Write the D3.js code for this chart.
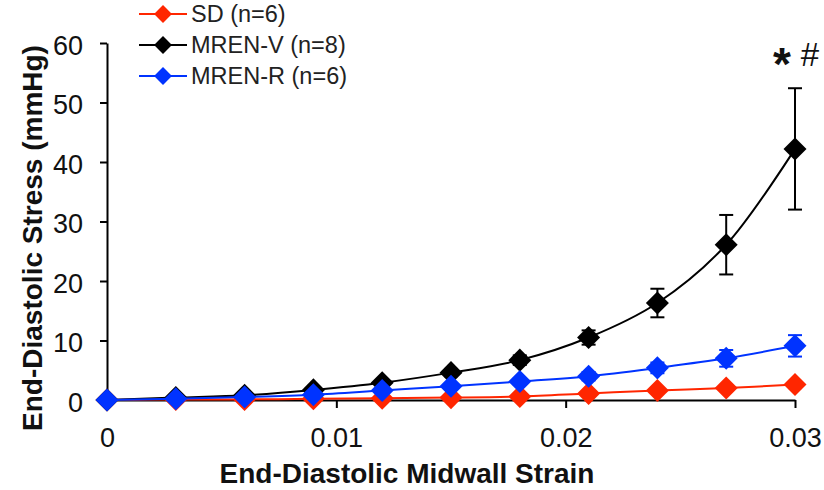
<!DOCTYPE html>
<html>
<head>
<meta charset="utf-8">
<script src="https://cdn.jsdelivr.net/npm/d3@7"></script>
<style>
  body { margin: 0; background: #fff; }
  text { font-family: "Liberation Sans", Arial, sans-serif; }
</style>
</head>
<body>
<div id="chart"></div>
<script>
var strain = [0, 0.003, 0.006, 0.009, 0.012, 0.015, 0.018, 0.021, 0.024, 0.027, 0.03];

var sdStress    = [0, 0.1, 0.1, 0.2, 0.3, 0.4, 0.6, 1.1, 1.6, 2.0, 2.6];
var sdErr       = [0, 0.05, 0.05, 0.1, 0.1, 0.1, 0.2, 0.3, 0.4, 0.5, 0.6];
var mrenVStress = [0, 0.4, 0.8, 1.7, 2.9, 4.6, 6.7, 10.5, 16.3, 26.1, 42.2];
var mrenVErr    = [0, 0.1, 0.2, 0.3, 0.4, 0.6, 0.8, 1.2, 2.4, 5.0, 10.2];
var mrenRStress = [0, 0.2, 0.5, 0.9, 1.6, 2.3, 3.1, 4.0, 5.4, 7.0, 9.1];
var mrenRErr    = [0, 0.05, 0.1, 0.2, 0.3, 0.4, 0.5, 0.7, 0.9, 1.4, 1.8];

var seriesNames = ["SD (n=6)", "MREN-V (n=8)", "MREN-R (n=6)"];
var xTicks = [0, 0.01, 0.02, 0.03];
var xTickLabels = ["0", "0.01", "0.02", "0.03"];
var yTicks = [0, 10, 20, 30, 40, 50, 60];

var width = 824;
var height = 490;

var series = [
  { name: seriesNames[0], values: sdStress, err: sdErr, color: "#ff2600" },
  { name: seriesNames[1], values: mrenVStress, err: mrenVErr, color: "#000000" },
  { name: seriesNames[2], values: mrenRStress, err: mrenRErr, color: "#0033ff" }
];

var svg = d3.select("#chart")
    .append("svg")
      .attr("width", width)
      .attr("height", height);

var x = d3.scaleLinear()
    .domain([0, 0.03])
    .range([107, 795]);

var y = d3.scaleLinear()
    .domain([0, 60])
    .range([400, 43]);

// axes
var xAxis = svg.append("g")
    .attr("transform", "translate(0,400)")
    .call(d3.axisBottom(x).tickValues(xTicks).tickSizeOuter(0).tickSizeInner(8)
      .tickFormat(function(d, i) { return xTickLabels[i]; }));
xAxis.select(".domain").attr("stroke", "#000").attr("stroke-width", 2);
xAxis.selectAll(".tick line").attr("stroke", "#000").attr("stroke-width", 2);
xAxis.selectAll(".tick text")
    .attr("y", 47)
    .attr("dy", 0)
    .style("font-size", "27px")
    .style("font-family", "Liberation Sans, Arial, sans-serif")
    .attr("fill", "#111");

var yAxis = svg.append("g")
    .attr("transform", "translate(107,0)")
    .call(d3.axisLeft(y).tickValues(yTicks).tickSizeOuter(0).tickSizeInner(7));
yAxis.select(".domain").attr("stroke", "#000").attr("stroke-width", 2);
yAxis.selectAll(".tick line").attr("stroke", "#000").attr("stroke-width", 2);
yAxis.selectAll(".tick text")
    .attr("x", -24)
    .attr("dy", "0.42em")
    .style("font-size", "27px")
    .style("font-family", "Liberation Sans, Arial, sans-serif")
    .attr("fill", "#111");

// axis titles
svg.append("text")
    .attr("x", 407)
    .attr("y", 483)
    .attr("text-anchor", "middle")
    .style("font-size", "28px")
    .style("font-weight", "bold")
    .attr("fill", "#111")
    .text("End-Diastolic Midwall Strain");

svg.append("text")
    .attr("transform", "translate(42,238) rotate(-90)")
    .attr("text-anchor", "middle")
    .style("font-size", "28px")
    .style("font-weight", "bold")
    .attr("fill", "#111")
    .text("End-Diastolic Stress (mmHg)");

var line = d3.line()
    .x(function(d, i) { return x(strain[i]); })
    .y(function(d) { return y(d); })
    .curve(d3.curveCatmullRom);

var diamond = d3.symbol().type(d3.symbolSquare).size(265);
var diamondSmall = d3.symbol().type(d3.symbolSquare).size(160);

series.forEach(function(s) {
  var g = svg.append("g");

  g.append("path")
      .datum(s.values)
      .attr("d", line)
      .attr("fill", "none")
      .attr("stroke", s.color)
      .attr("stroke-width", 2);

  var eb = g.selectAll(".err")
      .data(s.values)
      .enter()
      .append("g");
  eb.append("line")
      .attr("x1", function(d, i) { return x(strain[i]); })
      .attr("x2", function(d, i) { return x(strain[i]); })
      .attr("y1", function(d, i) { return y(d + s.err[i]); })
      .attr("y2", function(d, i) { return y(d - s.err[i]); })
      .attr("stroke", s.color)
      .attr("stroke-width", 2);
  eb.append("line")
      .attr("x1", function(d, i) { return x(strain[i]) - 7; })
      .attr("x2", function(d, i) { return x(strain[i]) + 7; })
      .attr("y1", function(d, i) { return y(d + s.err[i]); })
      .attr("y2", function(d, i) { return y(d + s.err[i]); })
      .attr("stroke", s.color)
      .attr("stroke-width", 2);
  eb.append("line")
      .attr("x1", function(d, i) { return x(strain[i]) - 7; })
      .attr("x2", function(d, i) { return x(strain[i]) + 7; })
      .attr("y1", function(d, i) { return y(d - s.err[i]); })
      .attr("y2", function(d, i) { return y(d - s.err[i]); })
      .attr("stroke", s.color)
      .attr("stroke-width", 2);

  g.selectAll(".pt")
      .data(s.values)
      .enter()
      .append("path")
        .attr("d", diamond)
        .attr("transform", function(d, i) {
          return "translate(" + x(strain[i]) + "," + y(d) + ") rotate(45)";
        })
        .attr("fill", s.color);
});

// legend
var legend = svg.append("g");
series.forEach(function(s, i) {
  var ly = 14 + i * 31;
  legend.append("line")
      .attr("x1", 139).attr("x2", 187)
      .attr("y1", ly).attr("y2", ly)
      .attr("stroke", s.color)
      .attr("stroke-width", 2);
  legend.append("path")
      .attr("d", diamondSmall)
      .attr("transform", "translate(163," + ly + ") rotate(45)")
      .attr("fill", s.color);
  legend.append("text")
      .attr("x", 191)
      .attr("y", ly)
      .attr("dy", "0.36em")
      .style("font-size", "23.5px")
      .attr("fill", "#222")
      .text(s.name);
});

// significance marks
svg.append("text")
    .attr("x", 782)
    .attr("y", 80)
    .attr("text-anchor", "middle")
    .style("font-size", "46px")
    .style("font-weight", "bold")
    .attr("fill", "#111")
    .text("*");
svg.append("text")
    .attr("x", 810)
    .attr("y", 66)
    .attr("text-anchor", "middle")
    .style("font-size", "33px")
    .attr("fill", "#111")
    .text("#");
</script>
</body>
</html>
